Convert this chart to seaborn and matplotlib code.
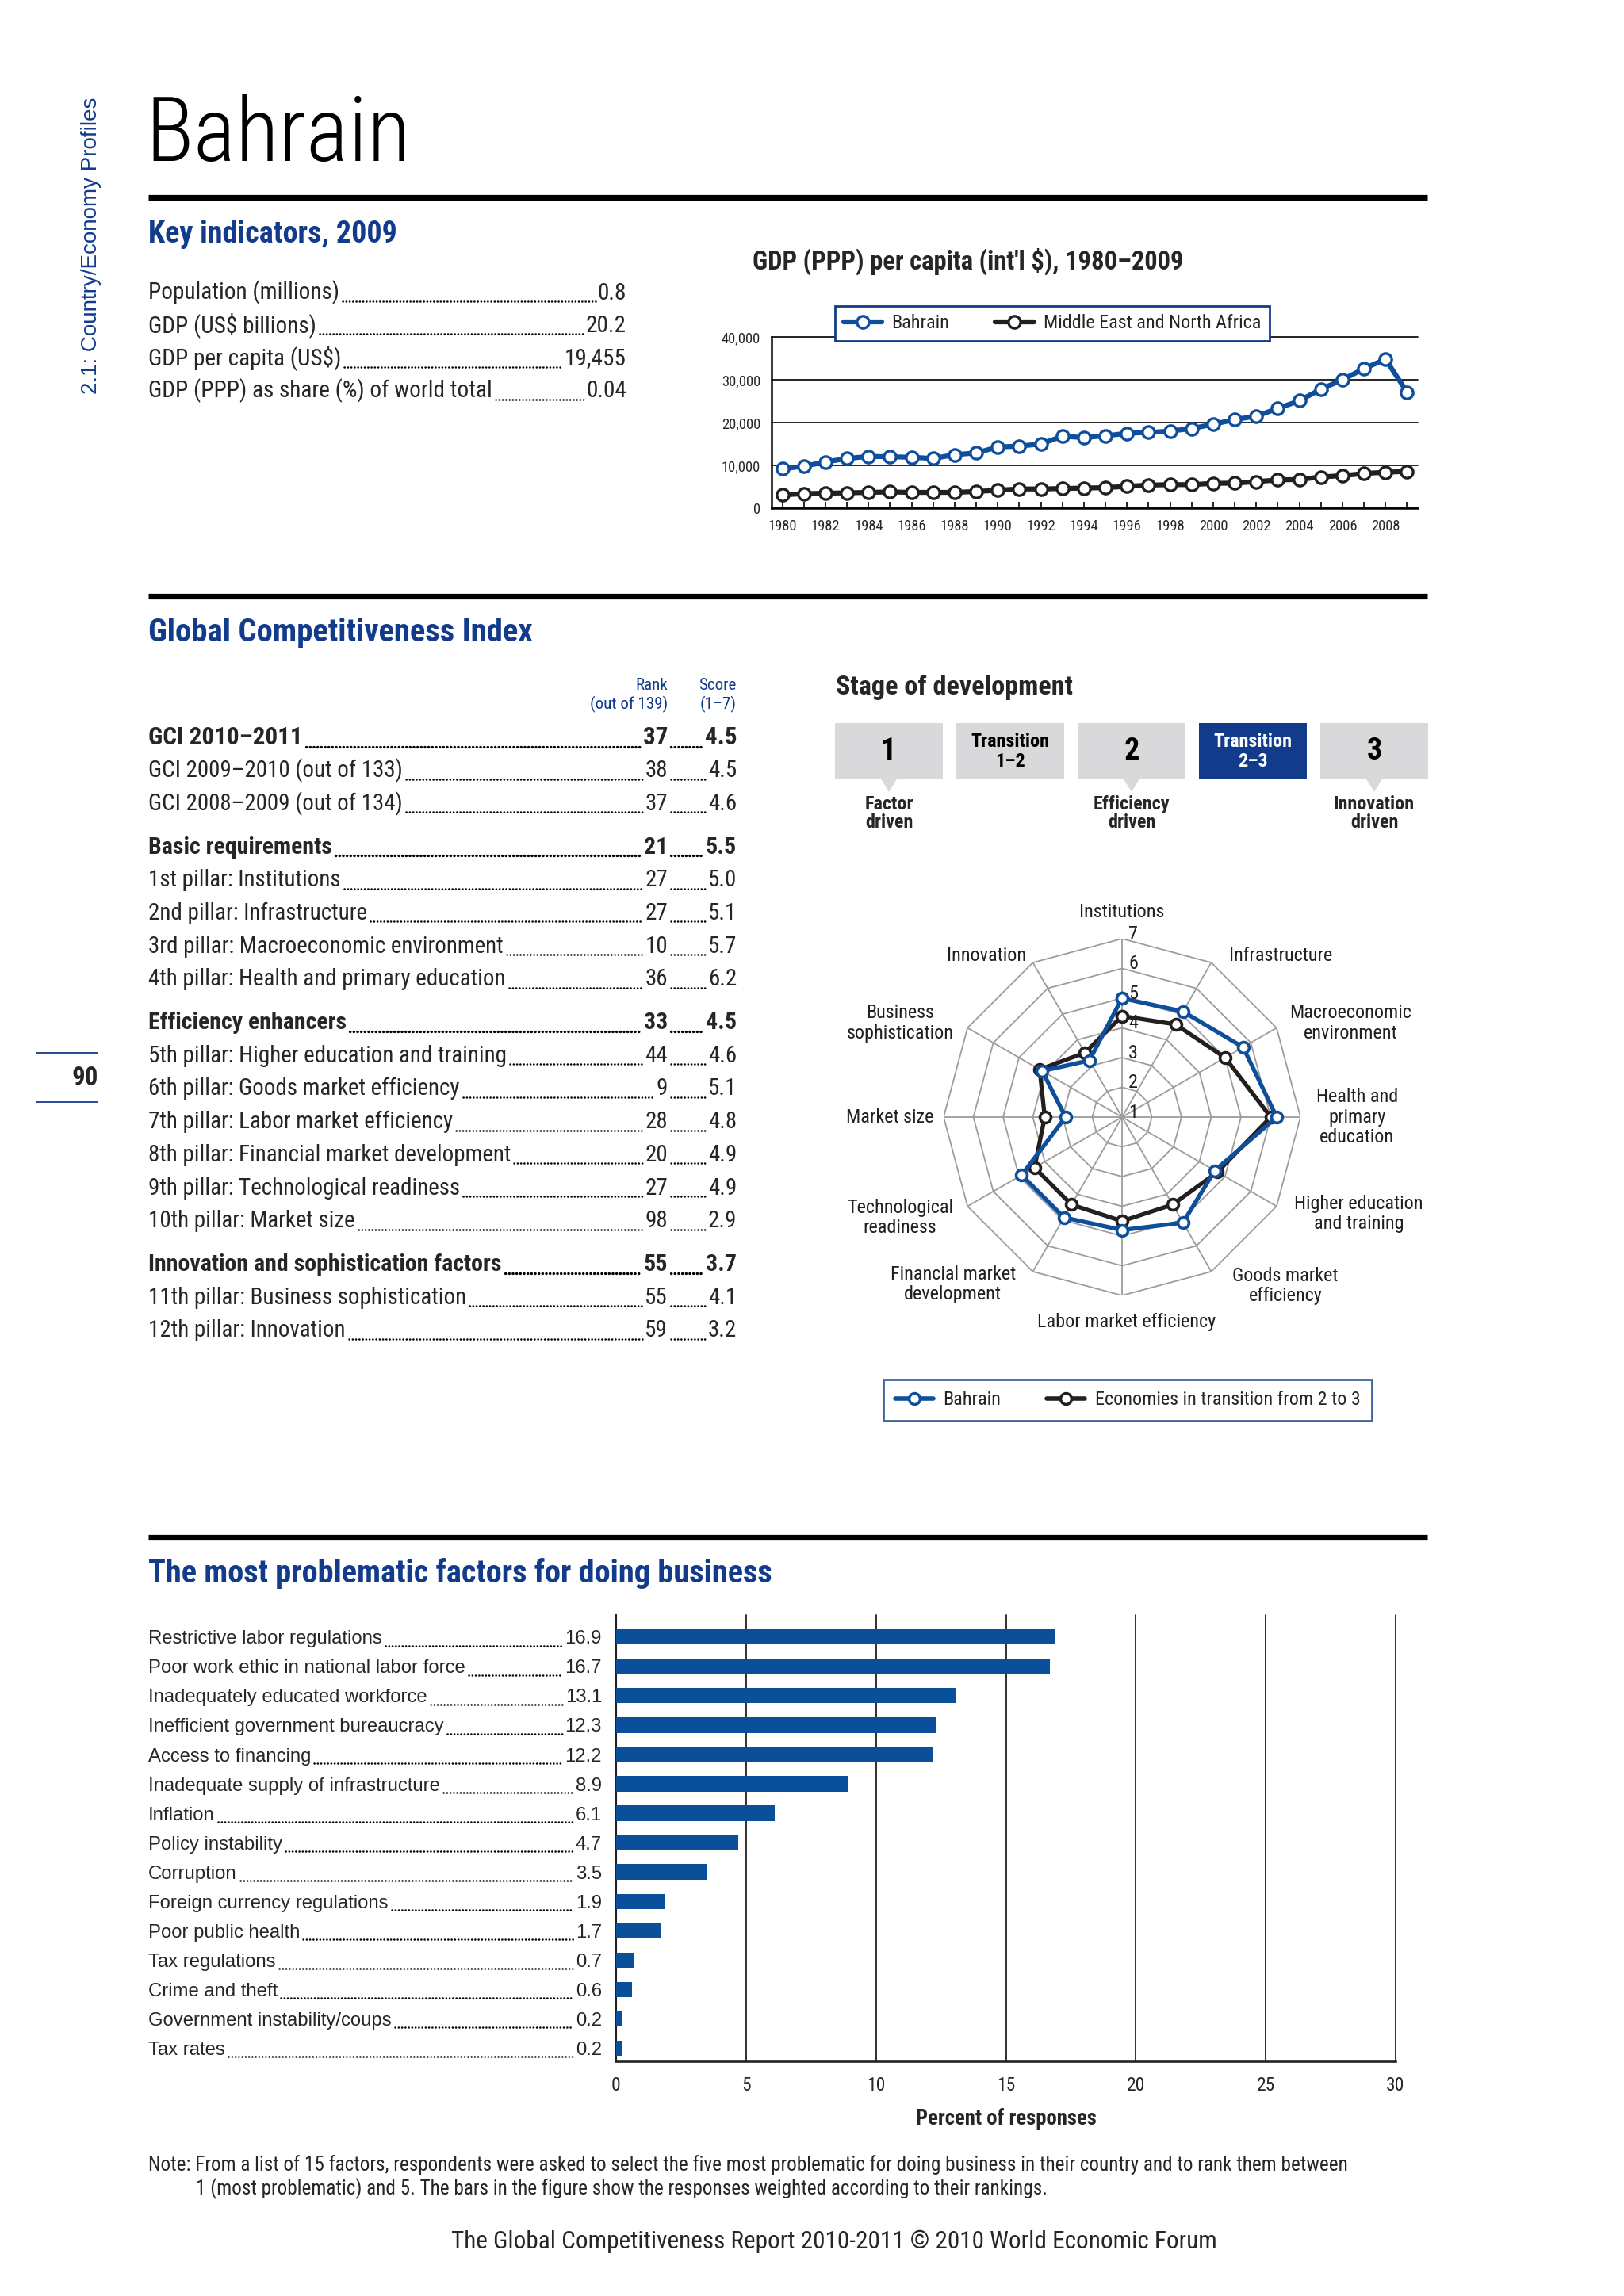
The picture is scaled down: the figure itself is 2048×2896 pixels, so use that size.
import numpy as np
import pandas as pd
import matplotlib
matplotlib.use("Agg")
import matplotlib.pyplot as plt
import seaborn as sns
from matplotlib import font_manager as fm
from matplotlib.lines import Line2D
from matplotlib.patches import Rectangle, Polygon
from matplotlib.textpath import TextToPath

# ---------------- data ----------------
key_labels = ["Population (millions)", "GDP (US$ billions)", "GDP per capita (US$)",
              "GDP (PPP) as share (%) of world total"]
key_values = ["0.8", "20.2", "19,455", "0.04"]

years = list(range(1980, 2010))
gdp_bahrain = [9200, 9800, 10800, 11600, 12100, 12000, 11900, 11600, 12500, 12900,
               14300, 14500, 15000, 16800, 16500, 16900, 17500, 17700, 18000, 18600,
               19600, 20700, 21500, 23300, 25100, 27800, 30000, 32600, 34800, 27100]
gdp_mena = [3100, 3400, 3500, 3600, 3700, 3800, 3700, 3700, 3700, 3900,
            4200, 4500, 4500, 4600, 4700, 4800, 5100, 5400, 5500, 5500,
            5800, 5850, 6200, 6600, 6700, 7300, 7600, 8100, 8400, 8600]
gdp_ticks = [0, 10000, 20000, 30000, 40000]
gdp_tick_labels = ["0", "10,000", "20,000", "30,000", "40,000"]

gci_labels = ["GCI 2010–2011", "GCI 2009–2010 (out of 133)", "GCI 2008–2009 (out of 134)",
              "Basic requirements", "1st pillar: Institutions", "2nd pillar: Infrastructure",
              "3rd pillar: Macroeconomic environment", "4th pillar: Health and primary education",
              "Efficiency enhancers", "5th pillar: Higher education and training",
              "6th pillar: Goods market efficiency", "7th pillar: Labor market efficiency",
              "8th pillar: Financial market development", "9th pillar: Technological readiness",
              "10th pillar: Market size", "Innovation and sophistication factors",
              "11th pillar: Business sophistication", "12th pillar: Innovation"]
gci_ranks = ["37", "38", "37", "21", "27", "27", "10", "36", "33", "44", "9", "28", "20",
             "27", "98", "55", "55", "59"]
gci_scores = ["4.5", "4.5", "4.6", "5.5", "5.0", "5.1", "5.7", "6.2", "4.5", "4.6", "5.1",
              "4.8", "4.9", "4.9", "2.9", "3.7", "4.1", "3.2"]
gci_bold = [True, False, False, True, False, False, False, False, True, False, False,
            False, False, False, False, True, False, False]

radar_axes = ["Institutions", "Infrastructure", "Macroeconomic\nenvironment",
              "Health and\nprimary\neducation", "Higher education\nand training",
              "Goods market\nefficiency", "Labor market efficiency",
              "Financial market\ndevelopment", "Technological\nreadiness", "Market size",
              "Business\nsophistication", "Innovation"]
radar_bahrain = [5.0, 5.1, 5.7, 6.2, 4.6, 5.1, 4.8, 4.9, 4.9, 2.9, 4.1, 3.2]
radar_transition = [4.4, 4.6, 5.0, 6.0, 4.7, 4.4, 4.5, 4.4, 4.4, 3.6, 4.2, 3.5]
radar_ticks = [1, 2, 3, 4, 5, 6, 7]

stage_labels = ["1", "Transition\n1–2", "2", "Transition\n2–3", "3"]
stage_current = 3
stage_captions = {0: "Factor\ndriven", 2: "Efficiency\ndriven", 4: "Innovation\ndriven"}

factors = ["Restrictive labor regulations", "Poor work ethic in national labor force",
           "Inadequately educated workforce", "Inefficient government bureaucracy",
           "Access to financing", "Inadequate supply of infrastructure", "Inflation",
           "Policy instability", "Corruption", "Foreign currency regulations",
           "Poor public health", "Tax regulations", "Crime and theft",
           "Government instability/coups", "Tax rates"]
factor_pct = [16.9, 16.7, 13.1, 12.3, 12.2, 8.9, 6.1, 4.7, 3.5, 1.9, 1.7, 0.7, 0.6, 0.2, 0.2]
bar_ticks = [0, 5, 10, 15, 20, 25, 30]

# ---------------- fonts ----------------
sns.set_theme(style="white")
ttf = fm.fontManager.ttflist
names = {f.name for f in ttf}
REG = "Liberation Sans" if "Liberation Sans" in names else "DejaVu Sans"
COND, STRETCH = None, "normal"
for nm in ["Liberation Sans Narrow", "Roboto Condensed", "Open Sans Condensed",
           "Noto Sans Condensed", "DejaVu Sans Condensed", "Arial Narrow"]:
    if nm in names:
        COND = nm
        break
if COND is None:
    for nm in ["Roboto", "Noto Sans", "Open Sans", "DejaVu Sans", "Inter", "Lato"]:
        sts = {str(f.stretch) for f in ttf if f.name == nm}
        hit = [s for s in ("condensed", "semi-condensed") if s in sts]
        if hit:
            COND, STRETCH = nm, hit[0]
            break
if COND is None:
    COND = REG
plt.rcParams["font.family"] = [COND, "DejaVu Sans"]
plt.rcParams["font.stretch"] = STRETCH

_ttp = TextToPath()
_cal = "1st pillar: Institutions GDP per capita Market size"
try:
    _wr = _ttp.get_text_width_height_descent(_cal, fm.FontProperties(family=REG, size=20), ismath=False)[0]
    _wc = _ttp.get_text_width_height_descent(_cal, fm.FontProperties(family=COND, stretch=STRETCH, size=20), ismath=False)[0]
    CS = min(1.15, max(0.7, 0.82 * _wr / _wc))
except Exception:
    CS = 0.82

def cs(pt):
    return pt * CS

BLUE_H = "#123B8C"
BLUE_L = "#0E4E9A"
BAR_BLUE = "#0A4F9A"
BLACK = "#231F20"
GRID = "#9C9C9C"

W, H = 2048, 2896
fig = plt.figure(figsize=(W / 100, H / 100), dpi=100)
fig.patch.set_facecolor("white")

def fx(x):
    return x / W

def fy(y):
    return 1 - y / H

def T(x, y, s, size, **kw):
    kw.setdefault("parse_math", False)
    if kw.get("family", COND) == REG and REG != COND:
        kw.setdefault("fontstretch", "normal")
    return fig.text(fx(x), fy(y), s, fontsize=size, **kw)

def hline(x0, x1, y, lw, color="black"):
    fig.add_artist(Line2D([fx(x0), fx(x1)], [fy(y), fy(y)], transform=fig.transFigure,
                          color=color, lw=lw, solid_capstyle="butt"))

leaders = []

def row(x_left, xr_list, cy, left_s, right_list, size, weight="normal", family=None):
    family = family or COND
    base = cy + 0.36 * size * 100 / 72
    tl = T(x_left, base, left_s, size, fontweight=weight, family=family, va="baseline", ha="left")
    prev = tl
    for xr, s in zip(xr_list, right_list):
        tr = T(xr, base, s, size, fontweight=weight, family=family, va="baseline", ha="right")
        leaders.append((prev, tr, base, weight))
        prev = tr

# ---------------- header ----------------
T(115, 310, "2.1: Country/Economy Profiles", 20, family=REG, color=BLUE_H, rotation=90,
  ha="center", va="center")
T(183, 172, "Bahrain", cs(89), ha="left", va="center", color="black", fontweight="light")
hline(187, 1800, 249, 5.2)
T(187, 296, "Key indicators, 2009", cs(30), fontweight="bold", color=BLUE_H, ha="left", va="center")
for i, (lab, val) in enumerate(zip(key_labels, key_values)):
    row(187, [790], 367 + i * 41.3, lab, [val], cs(23))

# page number
hline(46, 124, 1328, 1.3, BLUE_H)
hline(46, 124, 1390, 1.3, BLUE_H)
T(124, 1360, "90", cs(26), fontweight="bold", ha="right", va="center")

# ---------------- GDP line chart ----------------
T(1221, 330, "GDP (PPP) per capita (int'l $), 1980–2009", cs(25.7), fontweight="bold",
  ha="center", va="center")
axg = fig.add_axes([fx(973), fy(641), (1788 - 973) / W, (641 - 425) / H])
sns.lineplot(x=years, y=gdp_bahrain, ax=axg, color=BLUE_L, lw=4.5, marker="o", markersize=11,
             markerfacecolor="white", markeredgecolor=BLUE_L, markeredgewidth=2.4,
             label="Bahrain", zorder=4)
sns.lineplot(x=years, y=gdp_mena, ax=axg, color=BLACK, lw=4.5, marker="o", markersize=11,
             markerfacecolor="white", markeredgecolor=BLACK, markeredgewidth=2.4,
             label="Middle East and North Africa", zorder=3)
axg.set_xlim(1979.5, 2009.5)
axg.set_ylim(0, 40000)
axg.set_yticks(gdp_ticks)
axg.set_yticklabels(gdp_tick_labels)
axg.set_xticks(years)
axg.set_xticklabels([str(y) if y % 2 == 0 else "" for y in years])
axg.tick_params(axis="y", length=0, pad=10, labelsize=cs(14.5))
axg.tick_params(axis="x", bottom=True, direction="in", length=6, width=1.2, color="black",
                pad=10, labelsize=cs(14.5))
for s in ["top", "right"]:
    axg.spines[s].set_visible(False)
for s in ["left", "bottom"]:
    axg.spines[s].set_color("black")
    axg.spines[s].set_linewidth(1.8)
axg.yaxis.grid(True, color="black", lw=1.2)
axg.xaxis.grid(False)
axg.set_axisbelow(True)
for gl in axg.get_ygridlines():
    gl.set_clip_on(False)
axg.set_xlabel("")
axg.set_ylabel("")
axg.set_facecolor("none")
lg = axg.legend(loc="center", bbox_to_anchor=(fx(1327), fy(408)), bbox_transform=fig.transFigure,
                ncol=2, frameon=True, fancybox=False, edgecolor=BLUE_H, fontsize=cs(19),
                handlelength=2.0, columnspacing=2.4, borderpad=0.45, handletextpad=0.5,
                framealpha=1)
lg.get_frame().set_linewidth(2)
lg.set_zorder(10)

# ---------------- GCI section ----------------
hline(187, 1800, 752, 5.2)
T(187, 798, "Global Competitiveness Index", cs(32), fontweight="bold", color=BLUE_H,
  ha="left", va="center")
T(842, 864, "Rank", cs(16.5), color=BLUE_H, ha="right", va="center")
T(842, 888, "(out of 139)", cs(16.5), color=BLUE_H, ha="right", va="center")
T(929, 864, "Score", cs(16.5), color=BLUE_H, ha="right", va="center")
T(929, 888, "(1–7)", cs(16.5), color=BLUE_H, ha="right", va="center")
y = 928
for i, (lab, rk, sc, b) in enumerate(zip(gci_labels, gci_ranks, gci_scores, gci_bold)):
    if i > 0:
        y += 41.7 + (13 if b else 0)
    if i == 0:
        size = cs(24.5)
    elif b:
        size = cs(23.5)
    else:
        size = cs(22.8)
    row(187, [842, 929], y, lab, [rk, sc], size, weight="bold" if b else "normal")

# ---------------- stage of development ----------------
T(1054, 867, "Stage of development", cs(26.8), fontweight="bold", ha="left", va="center")
for i, s in enumerate(stage_labels):
    x0 = 1053 + i * 153
    cx = x0 + 68
    cur = (i == stage_current)
    fig.add_artist(Rectangle((fx(x0), fy(982)), 136 / W, 70 / H, transform=fig.transFigure,
                             facecolor="#123B8C" if cur else "#D9D9DB", edgecolor="none"))
    if s.startswith("Transition"):
        T(cx, 948, s, cs(19), fontweight="bold", ha="center", va="center", linespacing=1.1,
          color="white" if cur else "black")
    else:
        T(cx, 948, s, cs(30), fontweight="bold", ha="center", va="center",
          color="white" if cur else "black")
    if i in stage_captions:
        fig.add_artist(Polygon([(fx(cx - 11), fy(981)), (fx(cx + 11), fy(981)), (fx(cx), fy(999))],
                               closed=True, transform=fig.transFigure, facecolor="#D9D9DB",
                               edgecolor="none"))
        T(cx, 1026, stage_captions[i], cs(19), fontweight="bold", ha="center", va="center",
          linespacing=1.0)

# ---------------- radar ----------------
axr = fig.add_axes([fx(1190), fy(1634), 450 / W, 450 / H])
axr.set_xlim(-6, 6)
axr.set_ylim(-6, 6)
axr.axis("off")
ang = np.deg2rad(np.arange(12) * 30.0)
ux, uy = np.sin(ang), np.cos(ang)
for v in radar_ticks[1:]:
    r = v - 1
    axr.plot(np.append(ux, ux[0]) * r, np.append(uy, uy[0]) * r, color=GRID, lw=1.3, zorder=1)
for i in range(12):
    axr.plot([0, ux[i] * 6], [0, uy[i] * 6], color=GRID, lw=1.3, zorder=1)
for vals, col, z in [(radar_transition, BLACK, 3), (radar_bahrain, BLUE_L, 4)]:
    rr = np.array(vals) - 1
    xs = np.append(ux * rr, ux[0] * rr[0])
    ys = np.append(uy * rr, uy[0] * rr[0])
    sns.lineplot(x=xs, y=ys, sort=False, estimator=None, ax=axr, color=col, lw=3.8,
                 marker="o", markersize=10, markerfacecolor="white", markeredgecolor=col,
                 markeredgewidth=2.6, zorder=z)
if axr.get_legend() is not None:
    axr.get_legend().remove()
for v in radar_ticks:
    axr.annotate(str(v), xy=(0, v - 1), xytext=(6, 4), textcoords="offset points",
                 ha="left", va="center", fontsize=cs(19), color=BLACK, zorder=6)
label_pos = [(6.9, 90), (7.6, 45.5), (8.3, 22.4), (7.9, 0), (8.6, -22.2), (7.9, -46),
             (6.9, -88.8), (8.0, -135.3), (8.2, -155.6), (7.8, 180), (8.1, 157), (7.1, 130)]
for lab, (d, a) in zip(radar_axes, label_pos):
    axr.text(d * np.cos(np.deg2rad(a)), d * np.sin(np.deg2rad(a)), lab, ha="center", va="center",
             fontsize=cs(19), linespacing=1.15, color=BLACK)
rh = [Line2D([], [], color=BLUE_L, lw=4, marker="o", ms=10, mfc="white", mec=BLUE_L, mew=2.5,
             label="Bahrain"),
      Line2D([], [], color=BLACK, lw=4, marker="o", ms=10, mfc="white", mec=BLACK, mew=2.5,
             label="Economies in transition from 2 to 3")]
lg2 = fig.legend(handles=rh, loc="center", bbox_to_anchor=(fx(1422), fy(1766)), ncol=2,
                 fontsize=cs(19), frameon=True, fancybox=False, edgecolor=BLUE_H,
                 handlelength=2.0, columnspacing=2.4, borderpad=0.6, handletextpad=0.5)
lg2.get_frame().set_linewidth(2)

# ---------------- problematic factors ----------------
hline(187, 1800, 1939, 5.2)
T(187, 1985, "The most problematic factors for doing business", cs(31.7), fontweight="bold",
  color=BLUE_H, ha="left", va="center")
axb = fig.add_axes([fx(777), fy(2600), (1760 - 777) / W, (2600 - 2037) / H])
dfb = pd.DataFrame({"factor": factors, "pct": factor_pct})
sns.barplot(data=dfb, x="pct", y="factor", orient="h", color=BAR_BLUE, saturation=1,
            width=0.52, linewidth=0, ax=axb, zorder=3)
axb.set_xlim(0, 30)
axb.set_ylim(14.45, -0.75)
axb.set_yticks([])
axb.set_ylabel("")
axb.set_xticks(bar_ticks)
axb.set_xticklabels([str(t) for t in bar_ticks])
axb.tick_params(axis="x", length=0, pad=14, labelsize=cs(18.5))
axb.xaxis.grid(True, color=BLACK, lw=1.3)
axb.yaxis.grid(False)
axb.set_axisbelow(True)
for gl in axb.get_xgridlines():
    gl.set_clip_on(False)
for s in ["top", "right"]:
    axb.spines[s].set_visible(False)
axb.spines["left"].set_color(BLACK)
axb.spines["left"].set_linewidth(1.5)
axb.spines["bottom"].set_color(BLACK)
axb.spines["bottom"].set_linewidth(2.6)
axb.set_xlabel("Percent of responses", fontsize=cs(21), fontweight="bold", labelpad=12)
axb.set_facecolor("none")
disp = axb.transData.transform([(0, i) for i in range(len(factors))])
for (dx, dy), lab, v in zip(disp, factors, factor_pct):
    row(187, [759], H - dy, lab, [f"{v:.1f}"], 17.2, family=REG)

# ---------------- footnotes ----------------
T(187, 2731, "Note: From a list of 15 factors, respondents were asked to select the five most "
  "problematic for doing business in their country and to rank them between", cs(19.8),
  ha="left", va="center")
T(247, 2761, "1 (most problematic) and 5. The bars in the figure show the responses weighted "
  "according to their rankings.", cs(19.8), ha="left", va="center")
T(1052, 2827, "The Global Competitiveness Report 2010-2011 © 2010 World Economic Forum", cs(24.6),
  ha="center", va="center")

# ---------------- dot leaders ----------------
fig.canvas.draw()
rend = fig.canvas.get_renderer()
for a, b, base, w in leaders:
    x0 = a.get_window_extent(rend).x1 + 4
    x1 = b.get_window_extent(rend).x0 - 3
    yy = (H - base - 2.5) / H
    if w == "bold":
        lw, pat = 2.4, (0, (0.1, 1.3))
    else:
        lw, pat = 1.8, (0, (0.1, 1.6))
    fig.add_artist(Line2D([x0 / W, x1 / W], [yy, yy], transform=fig.transFigure, color="black",
                          lw=lw, ls=pat, dash_capstyle="round"))

fig.savefig("out.png", dpi=100, facecolor="white")
